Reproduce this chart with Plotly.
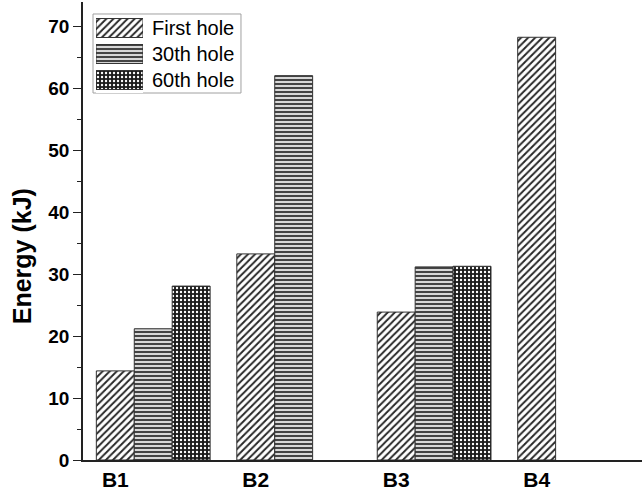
import plotly.graph_objects as go

# Energy per hole position for each specimen
specimens = ["B1", "B2", "B3", "B4"]
first_hole = [14.4, 33.3, 23.9, 68.3]
hole_30 = [21.2, 62.1, 31.2, None]
hole_60 = [28.1, None, 31.3, None]

series_names = ["First hole", "30th hole", "60th hole"]
series_values = [first_hole, hole_30, hole_60]

y_ticks = [0, 10, 20, 30, 40, 50, 60, 70]

FONT = "Arial, Liberation Sans, sans-serif"
BARGAP = 0.19
n_series = len(series_names)
bar_w = (1 - BARGAP) / n_series

patterns = [
    dict(shape="/", size=5, solidity=0.38, fgcolor="#262626", bgcolor="white"),
    dict(shape="-", size=4, solidity=0.45, fgcolor="#333333", bgcolor="#d8d8d8"),
    dict(shape=".", size=4, solidity=0.28, fgcolor="white", bgcolor="#1a1a1a"),
]
OUTLINE = dict(color="#333333", width=1)

x_pos = list(range(1, len(specimens) + 1))

fig = go.Figure()
for name, vals, pat in zip(series_names, series_values, patterns):
    fig.add_trace(go.Bar(
        x=x_pos, y=vals, name=name,
        marker=dict(color="white", pattern=dict(pat, fillmode="replace"), line=OUTLINE),
    ))

# Key: one patterned swatch per series on a small inset axis
fig.add_trace(go.Bar(
    x=[1] * n_series, y=series_names, orientation="h",
    xaxis="x2", yaxis="y2", width=0.73, hoverinfo="skip",
    marker=dict(
        color="white", line=OUTLINE,
        pattern=dict(
            shape=[p["shape"] for p in patterns],
            size=[p["size"] for p in patterns],
            solidity=[p["solidity"] for p in patterns],
            fgcolor=[p["fgcolor"] for p in patterns],
            bgcolor=[p["bgcolor"] for p in patterns],
            fillmode="replace",
        ),
    ),
))

key_labels = [
    dict(x=0.1199, xref="paper", y=name, yref="y2", text=name,
         xanchor="left", yanchor="middle", showarrow=False,
         font=dict(size=20, family=FONT, color="black"))
    for name in series_names
]

# Specimen labels sit under the first bar of each group
tick_pos = [p - bar_w for p in x_pos]

fig.update_layout(
    width=642, height=491,
    margin=dict(l=83, r=0, t=2, b=31),
    paper_bgcolor="white", plot_bgcolor="white",
    barmode="group", bargap=BARGAP, bargroupgap=0,
    font=dict(family=FONT, color="black"),
    showlegend=False,
    shapes=[dict(type="rect", xref="paper", yref="paper",
                 x0=0.0179, x1=0.2826, y0=0.8013, y1=0.9738,
                 line=dict(color="#a0a0a0", width=1), fillcolor="white", layer="below")],
    annotations=key_labels + [
        dict(x=-0.109, xref="paper", y=0.445, yref="paper", text="<b>Energy (kJ)</b>",
             textangle=-90, xanchor="center", yanchor="middle", showarrow=False,
             font=dict(size=25, family=FONT, color="black")),
    ],
    xaxis=dict(
        range=[0.5, 4.48],
        tickmode="array", tickvals=tick_pos, ticktext=specimens,
        ticks="", showgrid=False, zeroline=False,
        showline=True, linecolor="#222222", linewidth=1.5,
        tickfont=dict(size=21, family=FONT, color="black", weight="bold"),
    ),
    yaxis=dict(
        range=[0, 74],
        tickmode="array", tickvals=y_ticks,
        ticks="outside", ticklen=8, tickwidth=1.2, tickcolor="#222222",
        minor=dict(dtick=5, ticks="outside", ticklen=4, tickwidth=1.2, tickcolor="#222222", showgrid=False),
        showgrid=False, zeroline=False,
        showline=True, linecolor="#222222", linewidth=1.5,
        tickfont=dict(size=19, family=FONT, color="black", weight="bold"),
    ),
    xaxis2=dict(domain=[0.0233, 0.1073], range=[0, 1], anchor="y2", visible=False, fixedrange=True),
    yaxis2=dict(domain=[0.8013, 0.9716], range=[2.5, -0.5], anchor="x2", visible=False,
                fixedrange=True, type="category"),
)

fig.write_html("out.html")
